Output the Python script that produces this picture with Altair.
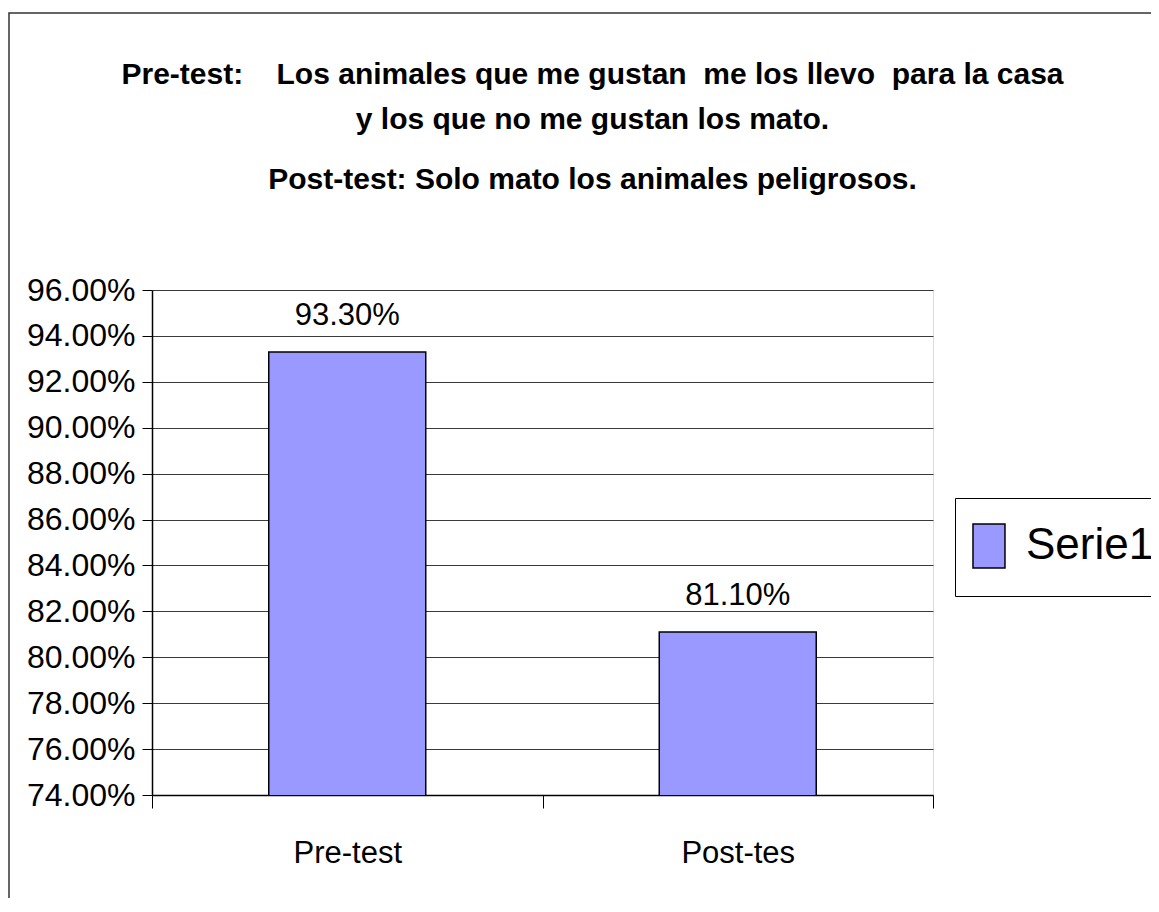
import altair as alt
import pandas as pd

categories = ["Pre-test", "Post-tes"]
values = [0.933, 0.811]
series = ["Serie1", "Serie1"]
y_ticks = [0.74, 0.76, 0.78, 0.80, 0.82, 0.84, 0.86, 0.88, 0.90, 0.92, 0.94, 0.96]
title_lines = [
    "Pre-test:\u00a0\u00a0\u00a0 Los animales que me gustan \u00a0me los llevo \u00a0para la casa",
    "y los que no me gustan los mato.",
]
subtitle_line = "Post-test: Solo mato los animales peligrosos."

FONT = "Liberation Sans, Arial, sans-serif"

df = pd.DataFrame({"cat": categories, "val": values, "serie": series})

W, H = 781, 505
PL, PT = 144, 282
PR = 1143 - PL - W
PB = 890 - PT - H

x_enc = alt.X(
    "cat:N",
    sort=None,
    scale=alt.Scale(paddingInner=0, paddingOuter=0),
    axis=alt.Axis(
        title=None,
        labelAngle=0,
        tickBand="extent",
        tickSize=13,
        tickColor="black",
        domainColor="black",
        domainWidth=1.5,
        labelFontSize=31,
        labelPadding=30,
        labelColor="black",
        labelFont=FONT,
        grid=False,
    ),
)
y_scale = alt.Scale(domain=[0.74, 0.96], zero=False, nice=False)

frame = alt.Chart(alt.Data(values=[{"a": 1}])).mark_rect(
    fillOpacity=0, stroke="#333333", strokeWidth=1.5
).encode(
    x=alt.value(-143), x2=alt.value(1100), y=alt.value(-277), y2=alt.value(1000)
)

bars = alt.Chart(df).mark_bar(
    width=alt.RelativeBandSize(0.402), stroke="black", strokeWidth=1.5, clip=True
).encode(
    x=x_enc,
    y=alt.Y(
        "val:Q",
        scale=y_scale,
        axis=alt.Axis(
            title=None,
            values=y_ticks,
            format=".2%",
            tickSize=10,
            tickColor="black",
            domainColor="black",
            domainWidth=1.5,
            gridColor="#3a3a3a",
            gridWidth=1,
            labelFontSize=32,
            labelPadding=7,
            labelColor="black",
            labelFont=FONT,
        ),
    ),
    color=alt.Color(
        "serie:N",
        scale=alt.Scale(range=["#9999FF"]),
        legend=alt.Legend(
            title=None,
            orient="none",
            legendX=803,
            legendY=208,
            direction="vertical",
            padding=25,
            strokeColor="black",
            fillColor="white",
            symbolType="M-1.364,-1H0.09V1H-1.364Z",
            symbolSize=1936,
            symbolStrokeColor="black",
            symbolStrokeWidth=1.5,
            symbolOpacity=1,
            labelFontSize=44,
            labelFont=FONT,
            labelColor="black",
            labelOffset=0,
            labelLimit=300,
        ),
    ),
)

labels = alt.Chart(df).mark_text(
    baseline="alphabetic", dy=-27, fontSize=31, font=FONT, color="black"
).encode(
    x=alt.X("cat:N", sort=None),
    y=alt.Y("val:Q", scale=y_scale),
    text=alt.Text("val:Q", format=".2%"),
)

chart = alt.layer(frame, bars, labels).properties(
    width=W,
    height=H,
    padding={"left": PL, "top": PT, "right": PR, "bottom": PB},
    autosize=alt.AutoSizeParams(type="none"),
    title=alt.TitleParams(
        text=title_lines,
        subtitle=subtitle_line,
        anchor="middle",
        frame="group",
        baseline="alphabetic",
        dx=50,
        offset=-207,
        fontSize=30,
        fontWeight="bold",
        font=FONT,
        color="black",
        lineHeight=45,
        subtitleFont=FONT,
        subtitleFontSize=30,
        subtitleFontWeight="bold",
        subtitleColor="black",
        subtitlePadding=30,
    ),
).configure_view(
    fill="#FFFFCC", stroke="#999999", strokeWidth=2
).configure(background="white")

chart.save("out.html", embed_options={"renderer": "svg", "actions": False})
